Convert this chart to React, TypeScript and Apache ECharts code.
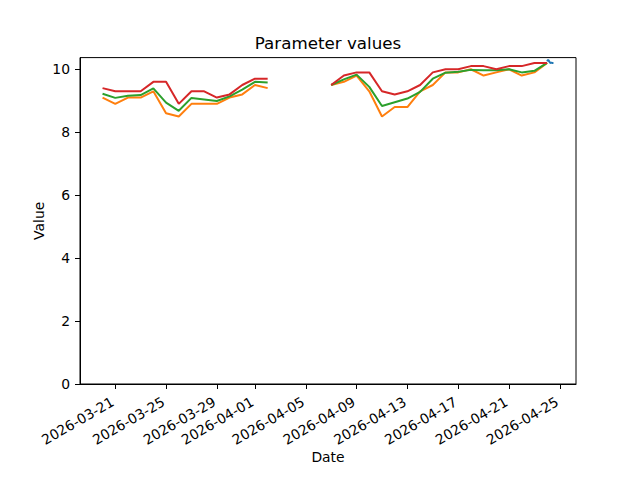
import React, { useEffect, useRef } from 'react';
import * as echarts from 'echarts';

const dates: string[] = [
  '2026-03-20', '2026-03-21', '2026-03-22', '2026-03-23', '2026-03-24', '2026-03-25',
  '2026-03-26', '2026-03-27', '2026-03-28', '2026-03-29', '2026-03-30', '2026-03-31',
  '2026-04-01', '2026-04-02', '2026-04-03', '2026-04-04', '2026-04-05', '2026-04-06',
  '2026-04-07', '2026-04-08', '2026-04-09', '2026-04-10', '2026-04-11', '2026-04-12',
  '2026-04-13', '2026-04-14', '2026-04-15', '2026-04-16', '2026-04-17', '2026-04-18',
  '2026-04-19', '2026-04-20', '2026-04-21', '2026-04-22', '2026-04-23', '2026-04-24',
];

const orangeValues: (number | null)[] = [
  9.1, 8.9, 9.1, 9.1, 9.3, 8.6, 8.5, 8.9, 8.9, 8.9, 9.1, 9.2, 9.5, 9.4,
  null, null, null, null,
  9.5, 9.6, 9.8, 9.3, 8.5, 8.8, 8.8, 9.3, 9.5, 9.9, 9.9, 10.0, 9.8, 9.9, 10.0, 9.8, 9.9, 10.2,
];

const greenValues: (number | null)[] = [
  9.22, 9.09, 9.16, 9.18, 9.39, 8.94, 8.68, 9.09, 9.04, 8.99, 9.14, 9.35, 9.6, 9.58,
  null, null, null, null,
  9.5, 9.68, 9.83, 9.44, 8.83, 8.95, 9.07, 9.28, 9.7, 9.89, 9.92, 9.98, 9.97, 9.97, 10.0, 9.9, 9.95, 10.2,
];

const redValues: (number | null)[] = [
  9.4, 9.3, 9.3, 9.3, 9.6, 9.6, 8.9, 9.3, 9.3, 9.1, 9.2, 9.5, 9.7, 9.7,
  null, null, null, null,
  9.5, 9.8, 9.9, 9.9, 9.3, 9.2, 9.3, 9.5, 9.9, 10.0, 10.0, 10.1, 10.1, 10.0, 10.1, 10.1, 10.2, 10.2,
];

const blueTimes: string[] = [
  '2026-04-24T00:00:00Z', '2026-04-24T01:00:00Z', '2026-04-24T02:00:00Z', '2026-04-24T03:00:00Z',
  '2026-04-24T04:00:00Z', '2026-04-24T05:00:00Z', '2026-04-24T06:00:00Z', '2026-04-24T07:00:00Z',
  '2026-04-24T08:00:00Z', '2026-04-24T09:00:00Z', '2026-04-24T10:00:00Z', '2026-04-24T11:00:00Z',
  '2026-04-24T12:00:00Z',
];
const blueValues: number[] = [
  10.25, 10.28, 10.3, 10.29, 10.25, 10.22, 10.2, 10.2, 10.21, 10.2, 10.2, 10.21, 10.2,
];

const xTickDates: string[] = [
  '2026-03-21', '2026-03-25', '2026-03-29', '2026-04-01', '2026-04-05',
  '2026-04-09', '2026-04-13', '2026-04-17', '2026-04-21', '2026-04-25',
];
const yTicks: number[] = [0, 2, 4, 6, 8, 10];

const toMs = (d: string) => Date.parse(d.length === 10 ? d + 'T00:00:00Z' : d);

export default function App() {
  const ref = useRef<HTMLDivElement>(null);
  useEffect(() => {
    if (!ref.current) return;
    const chart = echarts.init(ref.current, undefined, { renderer: 'svg' });
    const dayMs = dates.map(toMs);
    const blueMs = blueTimes.map(toMs);
    const xStart = Math.min(...dayMs, ...blueMs);
    const xEnd = Math.max(...dayMs, ...blueMs);
    const pad = (xEnd - xStart) * 0.05;
    const mk = (vals: (number | null)[]) => dayMs.map((t, i) => [t, vals[i] === null ? '-' : vals[i]]);
    const font = 'DejaVu Sans';
    const lineSeries = (name: string, data: any[], color: string) => ({
      name,
      type: 'line',
      data,
      showSymbol: false,
      symbol: 'none',
      connectNulls: false,
      lineStyle: { color, width: 2 },
      itemStyle: { color },
      emphasis: { disabled: true },
    });
    chart.setOption({
      animation: false,
      textStyle: { fontFamily: font },
      title: {
        text: 'Parameter values',
        left: 328,
        top: 34,
        textAlign: 'center',
        padding: 0,
        textStyle: { fontFamily: font, fontSize: 16.7, fontWeight: 'normal', color: '#000' },
      },
      grid: {
        left: 80,
        right: 64,
        top: 57.6,
        bottom: 96,
        show: true,
        borderColor: '#000',
        borderWidth: 1,
        backgroundColor: 'transparent',
      },
      xAxis: {
        type: 'value',
        min: xStart - pad,
        max: xEnd + pad,
        name: 'Date',
        nameLocation: 'middle',
        nameGap: 66,
        nameMoveOverlap: false,
        nameTextStyle: { fontFamily: font, fontSize: 13.9, color: '#000' },
        splitLine: { show: false },
        axisLine: { show: true, lineStyle: { color: '#000', width: 1 } },
        axisTick: {
          show: true,
          length: 5,
          lineStyle: { color: '#000', width: 1 },
          customValues: xTickDates.map(toMs),
        },
        axisLabel: {
          rotate: 30,
          margin: 15,
          padding: [0, 3, 0, 0],
          fontFamily: font,
          fontSize: 13.9,
          color: '#000',
          customValues: xTickDates.map(toMs),
          formatter: (v: number) => new Date(v).toISOString().slice(0, 10),
        },
      },
      yAxis: {
        type: 'value',
        min: 0,
        max: 10.37,
        name: 'Value',
        nameLocation: 'middle',
        nameGap: 34,
        nameMoveOverlap: false,
        nameTextStyle: { fontFamily: font, fontSize: 13.9, color: '#000' },
        splitLine: { show: false },
        axisLine: { show: true, lineStyle: { color: '#000', width: 1 } },
        axisTick: {
          show: true,
          length: 5,
          lineStyle: { color: '#000', width: 1 },
          customValues: yTicks,
        },
        axisLabel: {
          margin: 10,
          fontFamily: font,
          fontSize: 13.9,
          color: '#000',
          customValues: yTicks,
        },
      },
      series: [
        lineSeries('blue', blueMs.map((t, i) => [t, blueValues[i]]), '#1f77b4'),
        lineSeries('orange', mk(orangeValues), '#ff7f0e'),
        lineSeries('green', mk(greenValues), '#2ca02c'),
        lineSeries('red', mk(redValues), '#d62728'),
      ],
    });
    return () => chart.dispose();
  }, []);
  return <div ref={ref} style={{ width: 640, height: 480, position: 'absolute', left: 0, top: 0 }} />;
}
